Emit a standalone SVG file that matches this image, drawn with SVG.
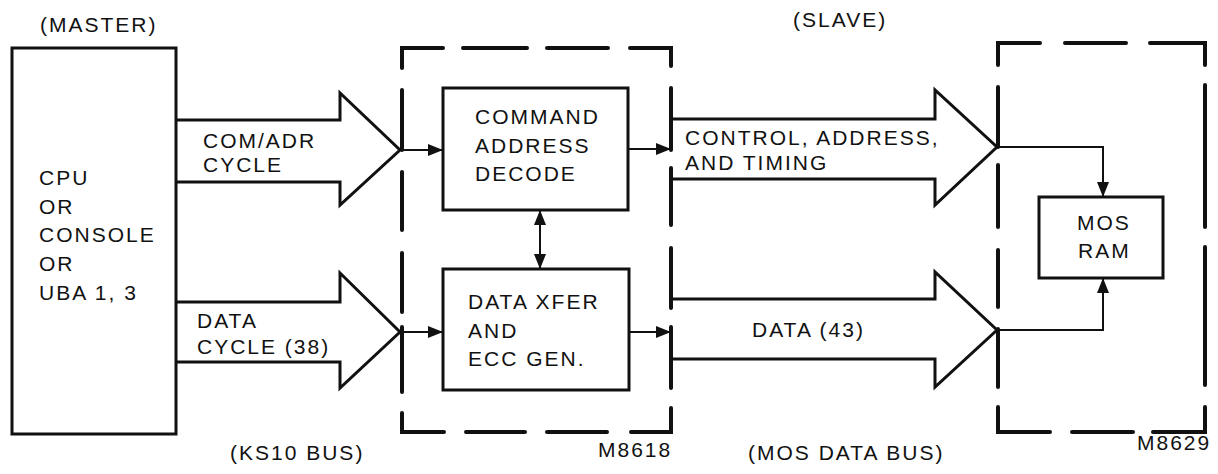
<svg xmlns="http://www.w3.org/2000/svg" width="1218" height="474" viewBox="0 0 1218 474">
<style>
text{font-family:"Liberation Sans",Arial,sans-serif;font-size:21px;letter-spacing:2px;fill:#111}
.box{fill:none;stroke:#111;stroke-width:3}
.dash{fill:none;stroke:#111;stroke-width:4;stroke-linecap:round}
.bus{fill:none;stroke:#111;stroke-width:3;stroke-linejoin:miter}
.wire{fill:none;stroke:#111;stroke-width:2}
</style>
<defs>
<marker id="ah" markerWidth="15" markerHeight="12" refX="15" refY="6" orient="auto" markerUnits="userSpaceOnUse">
<path d="M0,0 L15,6 L0,12 Z" fill="#111"/>
</marker>
<marker id="ahs" markerWidth="15" markerHeight="12" refX="0" refY="6" orient="auto" markerUnits="userSpaceOnUse">
<path d="M15,0 L0,6 L15,12 Z" fill="#111"/>
</marker>
</defs>
<rect width="1218" height="474" fill="#fff"/>

<g id="master-label"><text x="40" y="32">(MASTER)</text></g>
<g id="slave-label"><text x="793" y="27">(SLAVE)</text></g>

<g id="cpu">
<rect class="box" x="12" y="48" width="164" height="386"/>
<text x="39" y="185">CPU</text>
<text x="39" y="214">OR</text>
<text x="39" y="242">CONSOLE</text>
<text x="39" y="271">OR</text>
<text x="39" y="300">UBA 1, 3</text>
</g>

<g id="m8618">
<path class="dash" d="M402,68 V48 H443 M463,48 H527 M547,48 H608 M630,48 H671 V66
M402,90 V150 M402,172 V230 M402,253 V312 M402,327 V392 M402,413 V432 H444 M466,432 H525 M547,432 H607 M631,432 H671 V408
M671,88 V150 M671,168 V225 M671,248 V308 M671,327 V388"/>
<text x="598" y="457">M8618</text>
</g>

<g id="cmd">
<rect class="box" x="443" y="88" width="185" height="122"/>
<text x="475" y="124">COMMAND</text>
<text x="475" y="153">ADDRESS</text>
<text x="475" y="181">DECODE</text>
</g>

<g id="xfer">
<rect class="box" x="443" y="269" width="186" height="121"/>
<text x="468" y="309">DATA XFER</text>
<text x="468" y="338">AND</text>
<text x="468" y="366">ECC GEN.</text>
</g>

<g id="m8629">
<path class="dash" d="M998,65 V43 H1040 M1065,43 H1126 M1150,43 H1205 V65
M998,87 V147 M998,165 V227 M998,250 V307 M998,329 V387 M998,407 V432 H1050 M1072,432 H1133 M1153,432 H1205 V407
M1205,85 V227 M1205,247 V385"/>
<text x="1137" y="450">M8629</text>
</g>

<g id="mosram">
<rect class="box" x="1039" y="197" width="124" height="81"/>
<text x="1077" y="230">MOS</text>
<text x="1078" y="258">RAM</text>
</g>

<g id="connectors">
<polyline class="bus" points="176,120 340,120 340,93 400,150 340,205 340,182 176,182"/>
<polyline class="bus" points="176,302 340,302 340,273 400,332 340,388 340,362 176,362"/>
<polyline class="bus" points="671,119 935,119 935,90 997,147 935,205 935,179 671,179"/>
<polyline class="bus" points="671,299 935,299 935,272 997,330 935,387 935,359 671,359"/>
<line class="wire" x1="402" y1="150" x2="443" y2="150" marker-end="url(#ah)"/>
<line class="wire" x1="628" y1="149" x2="671" y2="149" marker-end="url(#ah)"/>
<line class="wire" x1="402" y1="332" x2="443" y2="332" marker-end="url(#ah)"/>
<line class="wire" x1="629" y1="332" x2="671" y2="332" marker-end="url(#ah)"/>
<line class="wire" x1="540" y1="210" x2="540" y2="269" marker-start="url(#ahs)" marker-end="url(#ah)"/>
<polyline class="wire" points="998,147 1103,147 1103,197" marker-end="url(#ah)"/>
<polyline class="wire" points="998,330 1103,330 1103,278" marker-end="url(#ah)"/>
</g>

<g id="bus-labels">
<text x="203" y="148">COM/ADR</text>
<text x="203" y="172">CYCLE</text>
<text x="197" y="328">DATA</text>
<text x="197" y="354">CYCLE (38)</text>
<text x="685" y="145">CONTROL, ADDRESS,</text>
<text x="685" y="170">AND TIMING</text>
<text x="752" y="337">DATA (43)</text>
<text x="230" y="460">(KS10 BUS)</text>
<text x="748" y="460">(MOS DATA BUS)</text>
</g>
</svg>
